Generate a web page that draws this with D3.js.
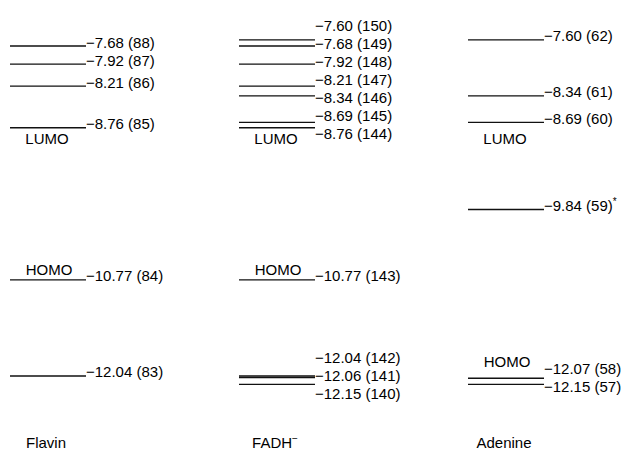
<!DOCTYPE html>
<html>
<head>
<meta charset="utf-8">
<script src="https://cdn.jsdelivr.net/npm/d3@7"></script>
<style>
  body { margin: 0; background: #fff; }
  text { font-family: "Liberation Sans", Arial, sans-serif; fill: #000; }
</style>
</head>
<body>
<div id="chart"></div>
<script>
const width = 623;
const height = 452;

// data (orbital energies in eV, orbital number)
const columns = ["Flavin", "FADH", "Adenine"];

const flavinEnergies = [-7.68, -7.92, -8.21, -8.76, -10.77, -12.04];
const flavinOrbitals = [88, 87, 86, 85, 84, 83];

const fadhEnergies = [-7.60, -7.68, -7.92, -8.21, -8.34, -8.69, -8.76, -10.77, -12.04, -12.06, -12.15];
const fadhOrbitals = [150, 149, 148, 147, 146, 145, 144, 143, 142, 141, 140];

const adenineEnergies = [-7.60, -8.34, -8.69, -9.84, -12.07, -12.15];
const adenineOrbitals = [62, 61, 60, 59, 58, 57];

const lumoOrbitals = [85, 144, 60];
const homoOrbitals = [84, 143, 58];
const starredOrbitals = [59];

const levels = [
    { energies: flavinEnergies, orbitals: flavinOrbitals },
    { energies: fadhEnergies, orbitals: fadhOrbitals },
    { energies: adenineEnergies, orbitals: adenineOrbitals }
];

const lineLength = 76;
const labelGap = 18;
const fmt = d3.format(".2f");

const x = d3.scalePoint().domain(columns).range([10, 468]);
const y = d3.scaleLinear().domain([-7.5, -12.5]).range([32.4, 410.8]);

// spread labels that sit too close, keeping each group centred on its lines
const dodge = (ys, gap) => {
    let clusters = ys.map(v => ({ items: [v], sum: v }));
    const top = c => c.sum / c.items.length - (c.items.length - 1) * gap / 2;
    let merged = true;
    while (merged) {
        merged = false;
        for (let k = 1; k < clusters.length; k++) {
            const a = clusters[k - 1], b = clusters[k];
            const aBottom = top(a) + (a.items.length - 1) * gap;
            if (top(b) - aBottom < gap) {
                clusters.splice(k - 1, 2, { items: a.items.concat(b.items), sum: a.sum + b.sum });
                merged = true;
                break;
            }
        }
    }
    const out = [];
    clusters.forEach(c => c.items.forEach((_, i) => out.push(top(c) + i * gap)));
    return out;
};

const svg = d3.select("#chart")
    .append("svg")
    .attr("width", width)
    .attr("height", height);

svg.append("rect")
    .attr("width", width)
    .attr("height", height)
    .attr("fill", "#fff");

const lumoRowY = y(d3.min(columns, (c, i) => {
    const j = levels[i].orbitals.indexOf(lumoOrbitals[i]);
    return levels[i].energies[j];
})) + 16;

columns.forEach((name, i) => {
    const col = levels[i];
    const x0 = x(name);
    const g = svg.append("g").attr("class", "column");

    const rows = col.energies.map((e, j) => ({ e, n: col.orbitals[j] }));
    const labelY = dodge(rows.map(r => y(r.e)), labelGap);

    // level lines
    g.selectAll(".level")
        .data(rows)
        .enter()
        .append("line")
        .attr("class", "level")
        .attr("x1", x0)
        .attr("x2", x0 + lineLength)
        .attr("y1", d => y(d.e))
        .attr("y2", d => y(d.e))
        .attr("stroke", "#111")
        .attr("stroke-width", 1.3);

    // value labels
    const labels = g.selectAll(".value")
        .data(rows)
        .enter()
        .append("text")
        .attr("class", "value")
        .attr("x", x0 + lineLength)
        .attr("y", (d, j) => labelY[j] + 1.5)
        .style("font-size", "15px")
        .text(d => fmt(d.e) + " (" + d.n + ")");

    labels.filter(d => starredOrbitals.includes(d.n))
        .append("tspan")
        .attr("dy", -6)
        .style("font-size", "10px")
        .text("*");

    // LUMO tag
    g.append("text")
        .attr("x", x0 + 37)
        .attr("y", lumoRowY)
        .attr("text-anchor", "middle")
        .style("font-size", "15px")
        .text("LUMO");

    // HOMO tag
    const h = col.orbitals.indexOf(homoOrbitals[i]);
    g.append("text")
        .attr("x", x0 + 39)
        .attr("y", Math.min(y(col.energies[h]), labelY[h]) - 5)
        .attr("text-anchor", "middle")
        .style("font-size", "15px")
        .text("HOMO");

    // column name
    const title = g.append("text")
        .attr("x", x0 + 36)
        .attr("y", 448)
        .attr("text-anchor", "middle")
        .style("font-size", "15px")
        .text(name);
    if (name === "FADH") {
        title.append("tspan")
            .attr("dy", -6)
            .style("font-size", "10px")
            .text("\u2212");
    }
});
</script>
</body>
</html>
